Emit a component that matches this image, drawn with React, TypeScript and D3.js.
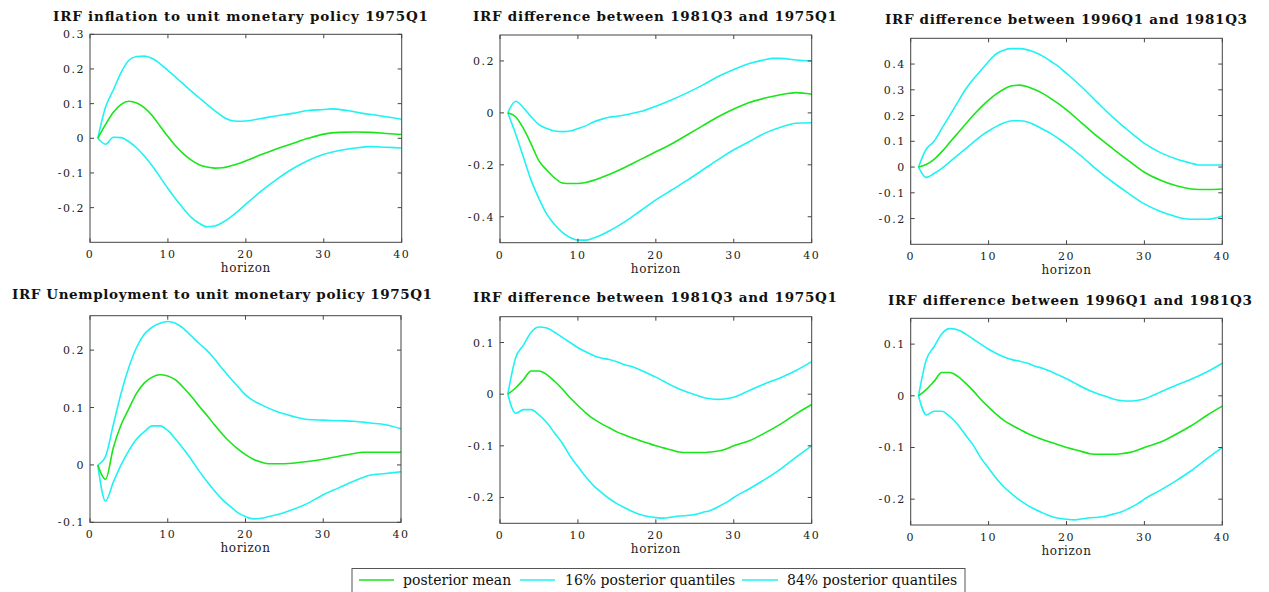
import React from 'react';
import * as d3 from 'd3';

type Pt = [number, number];

// Panel 1: IRF inflation
const p1Mean: Pt[] = [[1,0],[2,0.04],[3,0.075],[4,0.098],[5,0.107],[6,0.102],[7,0.088],[8,0.065],[9,0.035],[10,0.005],[11,-0.022],[12,-0.045],[13,-0.063],[14,-0.076],[15,-0.083],[16,-0.086],[17,-0.085],[18,-0.08],[20,-0.065],[22,-0.047],[24,-0.03],[26,-0.015],[28,0.0],[30,0.012],[32,0.017],[34,0.018],[36,0.017],[38,0.014],[40,0.011]];
const p1Lo: Pt[] = [[1,0],[2,-0.017],[3,0.003],[4,0.002],[5,-0.01],[6,-0.028],[7,-0.052],[8,-0.08],[9,-0.112],[10,-0.145],[11,-0.175],[12,-0.203],[13,-0.228],[14,-0.245],[15,-0.255],[16,-0.253],[17,-0.243],[18,-0.228],[19,-0.21],[20,-0.19],[22,-0.152],[24,-0.118],[26,-0.088],[28,-0.064],[30,-0.046],[32,-0.035],[34,-0.028],[36,-0.024],[38,-0.026],[40,-0.028]];
const p1Hi: Pt[] = [[1,0],[2,0.09],[3,0.14],[4,0.19],[5,0.225],[6,0.236],[7,0.237],[8,0.23],[9,0.215],[10,0.196],[11,0.176],[12,0.156],[13,0.136],[14,0.117],[15,0.098],[16,0.08],[17,0.063],[18,0.052],[19,0.049],[20,0.05],[22,0.057],[24,0.065],[26,0.072],[28,0.08],[30,0.083],[31,0.085],[33,0.08],[35,0.072],[37,0.066],[40,0.055]];

// Panel 2: IRF difference 1981Q3 - 1975Q1 (inflation)
const p2Mean: Pt[] = [[1,0],[2,-0.015],[3,-0.06],[4,-0.12],[5,-0.185],[6,-0.22],[7,-0.25],[8,-0.27],[9,-0.272],[10,-0.272],[11,-0.268],[12,-0.26],[14,-0.237],[16,-0.21],[18,-0.18],[20,-0.15],[22,-0.12],[24,-0.085],[26,-0.05],[28,-0.015],[30,0.015],[32,0.04],[34,0.057],[36,0.07],[38,0.078],[40,0.072]];
const p2Lo: Pt[] = [[1,0],[2,-0.08],[3,-0.17],[4,-0.26],[5,-0.33],[6,-0.39],[7,-0.43],[8,-0.46],[9,-0.48],[10,-0.49],[11,-0.49],[12,-0.482],[13,-0.47],[14,-0.455],[15,-0.438],[16,-0.42],[18,-0.378],[20,-0.335],[22,-0.298],[24,-0.26],[26,-0.22],[28,-0.18],[30,-0.142],[32,-0.11],[34,-0.078],[36,-0.055],[38,-0.04],[40,-0.038]];
const p2Hi: Pt[] = [[1,0],[2,0.045],[3,0.02],[4,-0.015],[5,-0.045],[6,-0.06],[7,-0.07],[8,-0.072],[9,-0.07],[10,-0.06],[11,-0.05],[12,-0.035],[13,-0.025],[14,-0.017],[15,-0.013],[16,-0.008],[18,0.005],[20,0.026],[22,0.05],[24,0.077],[26,0.107],[28,0.14],[30,0.167],[32,0.19],[34,0.205],[35,0.21],[36,0.21],[38,0.204],[40,0.2]];

// Panel 3: IRF difference 1996Q1 - 1981Q3 (inflation)
const p3Mean: Pt[] = [[1,0],[2,0.01],[3,0.03],[4,0.06],[5,0.095],[6,0.13],[7,0.165],[8,0.2],[9,0.232],[10,0.26],[11,0.284],[12,0.303],[13,0.316],[14,0.318],[15,0.312],[16,0.3],[17,0.285],[18,0.266],[19,0.245],[20,0.222],[22,0.17],[24,0.118],[26,0.07],[28,0.024],[30,-0.02],[32,-0.05],[34,-0.072],[36,-0.085],[38,-0.087],[40,-0.085]];
const p3Lo: Pt[] = [[1,0],[2,-0.04],[3,-0.025],[4,-0.005],[5,0.02],[6,0.045],[7,0.07],[8,0.095],[9,0.12],[10,0.14],[11,0.158],[12,0.172],[13,0.18],[14,0.18],[15,0.175],[16,0.162],[17,0.146],[18,0.13],[19,0.11],[20,0.088],[22,0.04],[24,-0.013],[26,-0.06],[28,-0.103],[30,-0.143],[32,-0.172],[34,-0.192],[35,-0.2],[36,-0.203],[38,-0.203],[40,-0.19]];
const p3Hi: Pt[] = [[1,0],[2,0.07],[3,0.1],[4,0.15],[5,0.2],[6,0.25],[7,0.3],[8,0.34],[9,0.375],[10,0.41],[11,0.44],[12,0.455],[13,0.46],[14,0.46],[15,0.455],[16,0.445],[17,0.43],[18,0.41],[19,0.39],[20,0.364],[22,0.31],[24,0.25],[26,0.192],[28,0.14],[30,0.092],[32,0.057],[34,0.032],[36,0.015],[37,0.008],[38,0.008],[40,0.008]];

// Panel 4: IRF unemployment
const p4Mean: Pt[] = [[1,0],[2,-0.025],[3,0.03],[4,0.07],[5,0.098],[6,0.125],[7,0.143],[8,0.153],[9,0.157],[10,0.155],[11,0.148],[12,0.135],[13,0.12],[14,0.103],[15,0.087],[16,0.07],[17,0.054],[18,0.04],[19,0.028],[20,0.018],[21,0.01],[22,0.005],[23,0.002],[24,0.002],[26,0.003],[28,0.006],[30,0.01],[32,0.015],[34,0.02],[35,0.022],[36,0.022],[38,0.022],[40,0.022]];
const p4Lo: Pt[] = [[1,0],[2,-0.063],[3,-0.03],[4,0.0],[5,0.025],[6,0.045],[7,0.058],[8,0.068],[9,0.068],[10,0.06],[11,0.045],[12,0.028],[13,0.01],[14,-0.01],[15,-0.028],[16,-0.045],[17,-0.06],[18,-0.072],[19,-0.083],[20,-0.09],[21,-0.094],[22,-0.093],[23,-0.09],[24,-0.087],[26,-0.078],[28,-0.067],[30,-0.052],[32,-0.04],[34,-0.028],[36,-0.018],[38,-0.015],[40,-0.012]];
const p4Hi: Pt[] = [[1,0],[2,0.015],[3,0.07],[4,0.125],[5,0.17],[6,0.205],[7,0.228],[8,0.24],[9,0.247],[10,0.25],[11,0.247],[12,0.238],[13,0.225],[14,0.212],[15,0.2],[16,0.185],[17,0.168],[18,0.152],[19,0.137],[20,0.122],[21,0.112],[22,0.105],[24,0.093],[26,0.085],[28,0.079],[30,0.078],[32,0.077],[34,0.076],[36,0.073],[38,0.07],[40,0.063]];

// Panels 5 and 6: IRF difference (unemployment)
const p5Mean: Pt[] = [[1,0],[2,0.012],[3,0.028],[4,0.045],[5,0.045],[6,0.038],[7,0.025],[8,0.01],[9,-0.007],[10,-0.022],[11,-0.036],[12,-0.048],[13,-0.057],[14,-0.065],[15,-0.073],[16,-0.079],[17,-0.085],[18,-0.09],[19,-0.095],[20,-0.1],[21,-0.104],[22,-0.108],[23,-0.112],[24,-0.113],[25,-0.113],[26,-0.113],[27,-0.112],[28,-0.11],[29,-0.106],[30,-0.1],[32,-0.09],[34,-0.075],[36,-0.058],[38,-0.038],[40,-0.02]];
const p5Lo: Pt[] = [[1,0],[2,-0.037],[3,-0.03],[4,-0.03],[5,-0.04],[6,-0.055],[7,-0.075],[8,-0.095],[9,-0.12],[10,-0.14],[11,-0.16],[12,-0.177],[13,-0.19],[14,-0.202],[15,-0.212],[16,-0.22],[17,-0.227],[18,-0.233],[19,-0.237],[20,-0.239],[21,-0.24],[22,-0.238],[23,-0.236],[24,-0.235],[25,-0.233],[26,-0.229],[27,-0.225],[28,-0.218],[29,-0.21],[30,-0.2],[32,-0.183],[34,-0.165],[36,-0.145],[38,-0.122],[40,-0.1]];
const p5Hi: Pt[] = [[1,0],[2,0.07],[3,0.095],[4,0.12],[5,0.13],[6,0.128],[7,0.12],[8,0.11],[9,0.1],[10,0.09],[11,0.082],[12,0.075],[13,0.07],[14,0.067],[15,0.063],[16,0.057],[17,0.053],[18,0.047],[19,0.04],[20,0.033],[21,0.025],[22,0.017],[23,0.01],[24,0.004],[25,-0.001],[26,-0.006],[27,-0.009],[28,-0.01],[29,-0.009],[30,-0.006],[31,0.0],[32,0.007],[34,0.02],[36,0.032],[38,0.046],[40,0.063]];

const xTicks = [0, 10, 20, 30, 40];
const titles = [
  'IRF inflation to unit monetary policy 1975Q1',
  'IRF difference between 1981Q3 and 1975Q1',
  'IRF difference between 1996Q1 and 1981Q3',
  'IRF Unemployment to unit monetary policy 1975Q1',
  'IRF difference between 1981Q3 and 1975Q1',
  'IRF difference between 1996Q1 and 1981Q3',
];
const yDomains: [number, number][] = [[-0.3, 0.3], [-0.5, 0.3], [-0.3, 0.5], [-0.1, 0.26], [-0.25, 0.15], [-0.25, 0.15]];
const yTicks = [
  [-0.2, -0.1, 0, 0.1, 0.2, 0.3],
  [-0.4, -0.2, 0, 0.2],
  [-0.2, -0.1, 0, 0.1, 0.2, 0.3, 0.4],
  [-0.1, 0, 0.1, 0.2],
  [-0.2, -0.1, 0, 0.1],
  [-0.2, -0.1, 0, 0.1],
];
const seriesMean = [p1Mean, p2Mean, p3Mean, p4Mean, p5Mean, p5Mean];
const seriesLo = [p1Lo, p2Lo, p3Lo, p4Lo, p5Lo, p5Lo];
const seriesHi = [p1Hi, p2Hi, p3Hi, p4Hi, p5Hi, p5Hi];
const legendLabels = ['posterior mean', '16% posterior quantiles', '84% posterior quantiles'];

// layout
const boxes = [
  { l: 90, r: 401.7, t: 34.3, b: 242.3 },
  { l: 500, r: 811.7, t: 35, b: 242.7 },
  { l: 910.7, r: 1222.3, t: 38.3, b: 244.3 },
  { l: 90, r: 401, t: 315.7, b: 522.3 },
  { l: 500, r: 811.7, t: 316.7, b: 523.3 },
  { l: 910.7, r: 1222.3, t: 318.3, b: 525 },
];
const titleLayout = [
  { x: 53, w: 375, y: 20.5 },
  { x: 473, w: 364, y: 21 },
  { x: 885, w: 362, y: 24 },
  { x: 12, w: 420, y: 299 },
  { x: 473, w: 364, y: 301.5 },
  { x: 888, w: 364, y: 304.5 },
];
const GREEN = '#19e619';
const CYAN = '#1ff2f2';
const AXIS = '#444';
const SERIF = '"DejaVu Serif", serif';

function fmt(v: number) {
  if (Math.abs(v) < 1e-9) return '0';
  return (v < 0 ? '-' : '') + Math.abs(v).toFixed(1);
}

function Panel({ i }: { i: number }) {
  const bx = boxes[i];
  const tlay = titleLayout[i];
  const x = d3.scaleLinear().domain([0, 40]).range([bx.l, bx.r]);
  const y = d3.scaleLinear().domain(yDomains[i]).range([bx.b, bx.t]);
  const line = d3.line<Pt>().x(d => x(d[0])).y(d => y(d[1])).curve(d3.curveMonotoneX);
  const tl = 4;
  const cx = (bx.l + bx.r) / 2;
  return (
    <g>
      <text x={tlay.x} y={tlay.y} textLength={tlay.w} lengthAdjust="spacing" fontFamily={SERIF} fontWeight="bold" fontSize={13.5} fill="#111">{titles[i]}</text>
      <path d={line(seriesHi[i]) || ''} fill="none" stroke={CYAN} strokeWidth={1.6} />
      <path d={line(seriesLo[i]) || ''} fill="none" stroke={CYAN} strokeWidth={1.6} />
      <path d={line(seriesMean[i]) || ''} fill="none" stroke={GREEN} strokeWidth={1.6} />
      <rect x={bx.l} y={bx.t} width={bx.r - bx.l} height={bx.b - bx.t} fill="none" stroke={AXIS} strokeWidth={1} />
      {xTicks.map(t => (
        <g key={'x' + t}>
          <line x1={x(t)} x2={x(t)} y1={bx.b} y2={bx.b - tl} stroke={AXIS} />
          <line x1={x(t)} x2={x(t)} y1={bx.t} y2={bx.t + tl} stroke={AXIS} />
          <text x={x(t)} y={bx.b + 16} textAnchor="middle" fontFamily={SERIF} fontSize={11} letterSpacing={1.5} fill="#222">{t}</text>
        </g>
      ))}
      {yTicks[i].map(t => (
        <g key={'y' + t}>
          <line x1={bx.l} x2={bx.l + tl} y1={y(t)} y2={y(t)} stroke={AXIS} />
          <line x1={bx.r} x2={bx.r - tl} y1={y(t)} y2={y(t)} stroke={AXIS} />
          <text x={bx.l - 5} y={y(t) + 4} textAnchor="end" fontFamily={SERIF} fontSize={11} letterSpacing={1.5} fill="#222">{fmt(t)}</text>
        </g>
      ))}
      <text x={cx} y={bx.b + 30} textAnchor="middle" fontFamily={SERIF} fontSize={12} letterSpacing={0.6} fill="#222">horizon</text>
    </g>
  );
}

export default function App() {
  const legendItems = [
    { color: GREEN, x1: 359, x2: 394, tx: 403 },
    { color: CYAN, x1: 520, x2: 555, tx: 565 },
    { color: CYAN, x1: 742, x2: 778, tx: 787 },
  ];
  return (
    <svg width={1269} height={592} style={{ position: 'absolute', left: 0, top: 0, background: '#fff' }} xmlns="http://www.w3.org/2000/svg">
      <rect x={0} y={0} width={1269} height={592} fill="#fff" />
      {boxes.map((_, i) => <Panel key={i} i={i} />)}
      <rect x={352} y={568.5} width={613} height={30} fill="#fff" stroke="#555" strokeWidth={1} />
      {legendItems.map((it, k) => (
        <g key={k}>
          <line x1={it.x1} x2={it.x2} y1={580} y2={580} stroke={it.color} strokeWidth={1.6} />
          <text x={it.tx} y={585} fontFamily={SERIF} fontSize={14} fill="#111">{legendLabels[k]}</text>
        </g>
      ))}
    </svg>
  );
}
